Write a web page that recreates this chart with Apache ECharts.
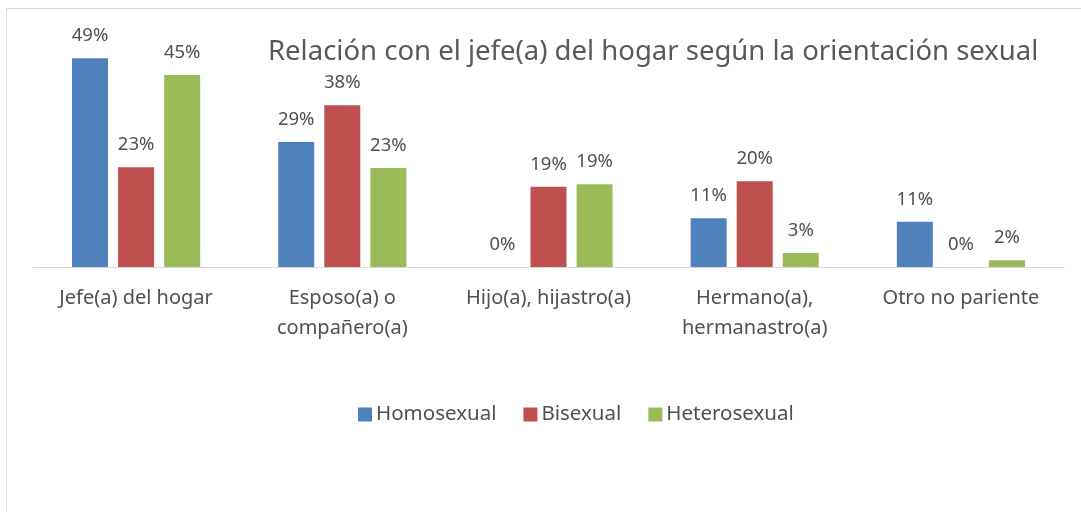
<!DOCTYPE html>
<html>
<head>
<meta charset="utf-8">
<script src="https://cdn.jsdelivr.net/npm/echarts@6/dist/echarts.min.js"></script>
<style>
  html, body { margin: 0; padding: 0; background: #fff; }
  #frame { position: absolute; left: 6px; top: 8px; width: 1100px; height: 600px; border: 1px solid #d9d9d9; }
  #chart { position: absolute; left: 0; top: 0; width: 1081px; height: 512px; }
</style>
</head>
<body>
<div id="frame"></div>
<div id="chart"></div>
<script>
const categories = ['Jefe(a) del hogar', 'Esposo(a) o\ncompañero(a)', 'Hijo(a), hijastro(a)', 'Hermano(a),\nhermanastro(a)', 'Otro no pariente']
const homosexual = [48.9, 29.3, 0, 11.4, 10.6]
const bisexual = [23.4, 37.9, 18.8, 20.1, 0]
const heterosexual = [45.0, 23.2, 19.4, 3.3, 1.6]
const seriesNames = ['Homosexual', 'Bisexual', 'Heterosexual']
const colors = ['#4f81bd', '#c0504d', '#9bbb59']

const font = 'Noto Sans'
const textColor = '#505050'
const mChart = echarts.init(document.getElementById('chart'))

const makeSeries = (name, data) => ({
  name,
  type: 'bar',
  data,
  barWidth: 36,
  barGap: '28%',
  label: {
    show: true,
    position: 'top',
    distance: 13,
    color: textColor,
    fontFamily: font,
    fontSize: 18.5,
    formatter: (p) => Math.round(p.value) + '%'
  }
})

mChart.setOption({
  animation: false,
  color: colors,
  title: {
    text: 'Relación con el jefe(a) del hogar según la orientación sexual',
    left: 263,
    top: 33,
    textStyle: { color: '#595959', fontFamily: font, fontSize: 27.5, fontWeight: 'normal' }
  },
  legend: {
    data: seriesNames,
    top: 399,
    left: 353,
    icon: 'rect',
    itemWidth: 14,
    itemHeight: 14,
    itemGap: 27,
    textStyle: { color: textColor, fontFamily: font, fontSize: 20.5, padding: [0, 0, 0, -1] }
  },
  grid: { left: 33, right: 17, top: 11, bottom: 245 },
  xAxis: {
    type: 'category',
    data: categories,
    axisTick: { show: false },
    axisLine: { lineStyle: { color: '#d9d9d9', width: 1 } },
    axisLabel: { color: textColor, fontFamily: font, fontSize: 20, margin: 16, lineHeight: 30, interval: 0 }
  },
  yAxis: {
    type: 'value',
    min: 0,
    max: 60,
    show: false
  },
  series: [
    makeSeries(seriesNames[0], homosexual),
    makeSeries(seriesNames[1], bisexual),
    makeSeries(seriesNames[2], heterosexual)
  ]
})
</script>
</body>
</html>
